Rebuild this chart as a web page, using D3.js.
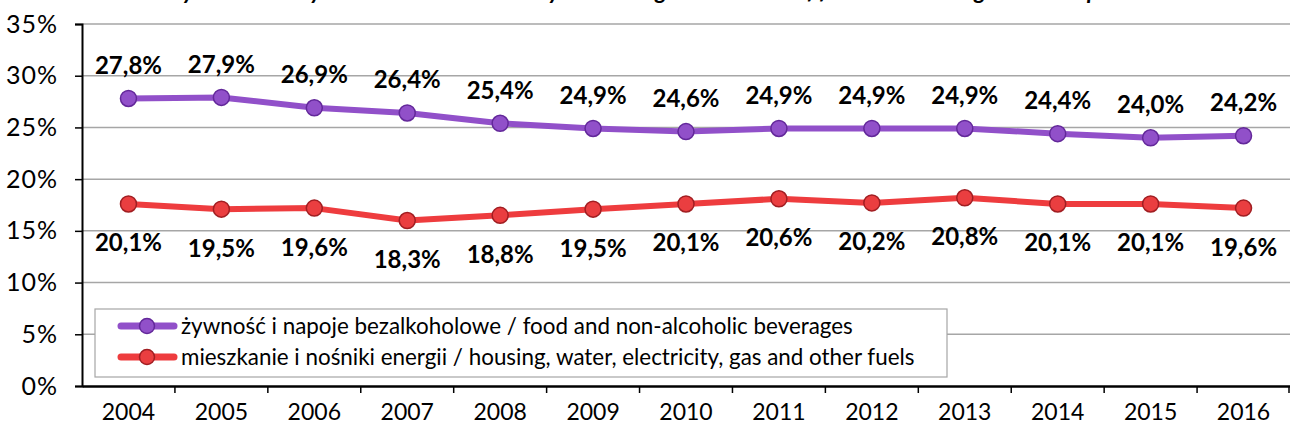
<!DOCTYPE html>
<html>
<head>
<meta charset="utf-8">
<script src="https://cdn.jsdelivr.net/npm/d3@7"></script>
<style>
  body { margin: 0; background: #fff; }
  svg { display: block; font-family: Lato, "Open Sans", sans-serif; }
</style>
</head>
<body>
<svg id="chart" width="1290" height="430"></svg>
<script>
// data
var years = ["2004","2005","2006","2007","2008","2009","2010","2011","2012","2013","2014","2015","2016"];
var foodValues = [27.8, 27.9, 26.9, 26.4, 25.4, 24.9, 24.6, 24.9, 24.9, 24.9, 24.4, 24.0, 24.2];
var foodLabels = ["27,8%","27,9%","26,9%","26,4%","25,4%","24,9%","24,6%","24,9%","24,9%","24,9%","24,4%","24,0%","24,2%"];
// the red line is drawn lower than its printed labels in the original
var housingValues = [17.6, 17.1, 17.2, 16.0, 16.5, 17.1, 17.6, 18.1, 17.7, 18.2, 17.6, 17.6, 17.2];
var housingLabels = ["20,1%","19,5%","19,6%","18,3%","18,8%","19,5%","20,1%","20,6%","20,2%","20,8%","20,1%","20,1%","19,6%"];
var yTicks = [0, 5, 10, 15, 20, 25, 30, 35];
var seriesNames = [
  "żywność i napoje bezalkoholowe / food and non-alcoholic beverages",
  "mieszkanie i nośniki energii / housing, water, electricity, gas and other fuels"
];
var titleText = "Udział wydatków na żywność i mieszkanie w wydatkach ogółem / Share of food and housing in total expenditure";

var svg = d3.select("#chart");

var x = d3.scaleBand().domain(years).range([82, 1290]);
var y = d3.scaleLinear().domain([0, 35]).range([386, 24]);
function cx(d) { return x(d) + x.bandwidth() / 2; }

// title, cut off at the top like in the picture
svg.append("text")
  .attr("x", 640).attr("y", -1)
  .attr("text-anchor", "middle")
  .style("font-size", "23px").style("font-weight", "bold").style("font-style", "italic")
  .text(titleText);

// grid
svg.append("g").selectAll("line")
  .data(yTicks.filter(function(d){ return d > 0; }))
  .enter().append("line")
  .attr("x1", 82).attr("x2", 1290)
  .attr("y1", function(d){ return y(d); }).attr("y2", function(d){ return y(d); })
  .style("stroke", "#a6a6a6").style("stroke-width", 1.5);

// y axis
var yAxis = svg.append("g")
  .attr("transform", "translate(82,0)")
  .call(d3.axisLeft(y).tickValues(yTicks).tickFormat(function(d){ return d + "%"; }).tickSize(7).tickPadding(17));
yAxis.select(".domain").style("stroke", "#000").style("stroke-width", 2);
yAxis.selectAll(".tick line").style("stroke", "#000").style("stroke-width", 1.5);
yAxis.selectAll("text").style("font-size", "25px").style("letter-spacing", "1px")
  .style("fill", "#000").style("font-family", "Lato, sans-serif");

// x axis
var xAxis = svg.append("g")
  .attr("transform", "translate(0,386)")
  .call(d3.axisBottom(x).tickSize(0).tickPadding(18));
xAxis.select(".domain").style("stroke", "#000").style("stroke-width", 2.5);
xAxis.selectAll("text").style("font-size", "23px").style("fill", "#000").style("font-family", "Lato, sans-serif");
svg.append("g").selectAll("line")
  .data(years.slice(1).concat(["end"]))
  .enter().append("line")
  .attr("x1", function(d){ return d == "end" ? 1289 : x(d); })
  .attr("x2", function(d){ return d == "end" ? 1289 : x(d); })
  .attr("y1", 386).attr("y2", 393)
  .style("stroke", "#000").style("stroke-width", 1.5);

var line = d3.line()
  .x(function(d, i){ return cx(years[i]); })
  .y(function(d){ return y(d); });

function drawSeries(values, labels, lineColor, fill, stroke, labelDy) {
  var g = svg.append("g");
  g.append("path")
    .datum(values)
    .attr("d", line)
    .style("fill", "none").style("stroke", lineColor).style("stroke-width", 6)
    .style("stroke-linejoin", "round");
  g.selectAll("circle")
    .data(values)
    .enter().append("circle")
    .attr("cx", function(d, i){ return cx(years[i]); })
    .attr("cy", function(d){ return y(d); })
    .attr("r", 8)
    .style("fill", fill).style("stroke", stroke).style("stroke-width", 1.5);
  g.selectAll("text")
    .data(values)
    .enter().append("text")
    .attr("x", function(d, i){ return cx(years[i]); })
    .attr("y", function(d){ return y(d) + labelDy; })
    .attr("dy", "0.35em")
    .attr("text-anchor", "middle")
    .style("font-size", "24px").style("font-weight", "bold").style("fill", "#000")
    .text(function(d, i){ return labels[i]; });
}

drawSeries(foodValues, foodLabels, "#9150c9", "#9150c9", "#63289a", -33);
drawSeries(housingValues, housingLabels, "#ee3c3e", "#ea3e40", "#a11e22", 39);

// legend
var legend = svg.append("g");
legend.append("rect")
  .attr("x", 95).attr("y", 309).attr("width", 852).attr("height", 68)
  .style("fill", "#fff").style("stroke", "#a6a6a6").style("stroke-width", 1.2);
var legendStyles = [["#9150c9", "#9150c9", "#63289a"], ["#ee3c3e", "#ea3e40", "#a11e22"]];
var legendRows = legend.selectAll("g.row")
  .data(seriesNames)
  .enter().append("g")
  .attr("class", "row")
  .attr("transform", function(d, i){ return "translate(0," + (326 + i * 31) + ")"; });
legendRows.append("line")
  .attr("x1", 121).attr("x2", 174).attr("y1", 0).attr("y2", 0)
  .style("stroke", function(d, i){ return legendStyles[i][0]; })
  .style("stroke-width", 7).style("stroke-linecap", "round");
legendRows.append("circle")
  .attr("cx", 147).attr("cy", 0).attr("r", 7.5)
  .style("fill", function(d, i){ return legendStyles[i][1]; })
  .style("stroke", function(d, i){ return legendStyles[i][2]; })
  .style("stroke-width", 1.5);
legendRows.append("text")
  .attr("x", 181).attr("y", 0).attr("dy", "0.35em")
  .style("font-size", "22.4px").style("fill", "#000")
  .text(function(d){ return d; });
</script>
</body>
</html>
